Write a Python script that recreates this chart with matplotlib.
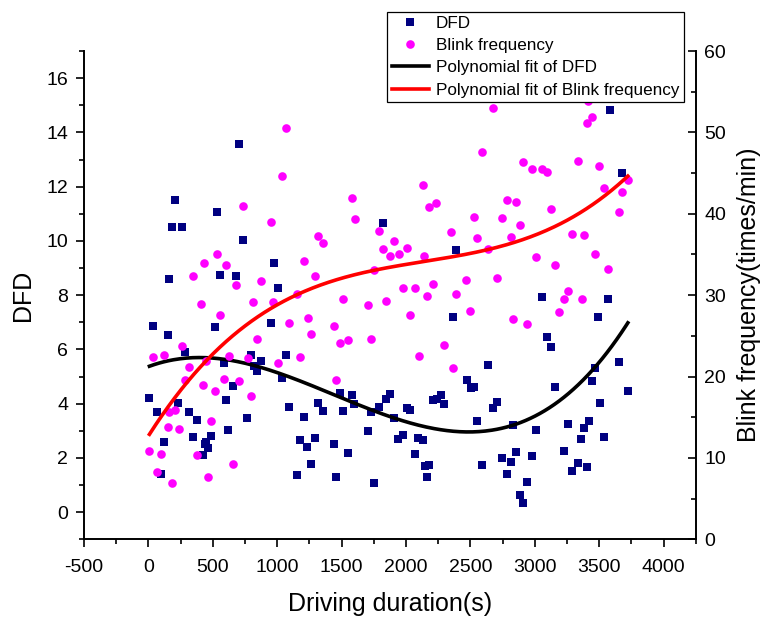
import numpy as np
import matplotlib
matplotlib.use('Agg')
import matplotlib.pyplot as plt
from matplotlib.ticker import MultipleLocator
from matplotlib.lines import Line2D

plt.rcParams['font.family'] = ['Liberation Sans', 'DejaVu Sans']
plt.rcParams['axes.unicode_minus'] = False

# DFD scatter (driving duration in s, DFD value)
dfd_x = [705, 204, 532, 186, 258, 734, 974, 163, 558, 677, 1010,
         1819, 2385, 3057, 3587, 3677,
         39, 150, 514, 951, 287, 793, 876, 822, 847, 587, 1070, 1036, 654, 605,
         8, 233, 70, 315, 374, 767, 1088, 1207, 1318, 1359, 1488, 1579, 1509, 1599,
         620, 347, 486, 450, 437, 460, 421, 122, 98, 1176, 1235, 1292, 1266, 1155,
         1439, 1548, 1460,
         2367, 3099, 3126, 3160, 3491, 3465, 3444, 3504, 2638, 2473, 2504, 2527,
         2674, 2705, 2553, 2835, 3010, 3258, 3385, 3419, 3362, 3230, 3336, 3287,
         3405, 2744, 2816, 2855, 2788, 2975, 2938, 2884, 2907, 2592, 1726, 1791,
         1845, 1879, 1909, 1708, 1754, 2008, 2031, 1940, 1977, 2096, 2132, 2070,
         2145, 2181, 2163, 2209, 2240, 2271, 2297,
         3566, 3654, 3723, 3535]
dfd_y = [13.57, 11.52, 11.07, 10.53, 10.53, 10.03, 9.20, 8.61, 8.75, 8.72, 8.27,
         10.67, 9.68, 7.92, 14.84, 12.49,
         6.85, 6.54, 6.81, 6.97, 5.90, 5.80, 5.56, 5.38, 5.21, 5.51, 5.78, 4.95, 4.66, 4.13,
         4.22, 4.03, 3.70, 3.71, 3.39, 3.47, 3.88, 3.51, 4.02, 3.73, 4.41, 4.33, 3.74, 3.97,
         3.03, 2.76, 2.81, 2.58, 2.50, 2.38, 2.11, 2.59, 1.39, 2.65, 2.41, 2.73, 1.76, 1.38,
         2.51, 2.19, 1.28,
         7.18, 6.46, 6.10, 4.62, 7.18, 5.31, 4.84, 4.03, 5.43, 4.87, 4.59, 4.63,
         3.85, 4.07, 3.37, 3.23, 3.03, 3.26, 3.10, 3.35, 2.71, 2.27, 1.80, 1.53,
         1.68, 2.00, 1.84, 2.23, 1.42, 2.07, 1.12, 0.64, 0.32, 1.75, 3.68, 3.89,
         4.16, 4.37, 3.46, 2.98, 1.07, 3.84, 3.77, 2.71, 2.83, 2.72, 2.67, 2.14,
         1.69, 1.74, 1.28, 4.13, 4.18, 4.31, 3.99,
         7.86, 5.52, 4.48, 2.76]

# Blink frequency scatter (driving duration in s, times/min)
blink_x = [1070, 1039, 734, 951, 1581, 1602, 1318, 1359, 532, 434, 605, 1207, 349,
           1292, 677, 876, 1155,
           2674, 3416, 3444, 3405, 2592, 2905, 2975, 3054, 3099, 3336, 3499, 2129,
           2181, 2235, 2788, 2855, 3126, 2525, 2742, 2884, 1788, 2346, 1909, 1819,
           2005, 1879, 1946, 2142, 2555, 2819, 2636, 3287, 3385, 3471, 3010, 3157,
           1752, 2470, 2705, 1977, 2070, 2207, 2163, 2388, 3261, 3230, 3364, 1512, 1847,
           3535, 3721, 3677, 3651, 3566,
           406, 816, 971, 558, 1088, 1238, 1266, 1439, 1486, 1550, 847, 258, 39, 124,
           623, 770, 1010, 1178, 315, 450, 284, 589, 705, 426, 514, 796, 1460, 163,
           204, 150, 235, 486, 8, 98, 374, 654, 70, 460, 186,
           1708, 2031, 2501, 2835, 2940, 3191, 1726, 2297, 2098, 2364]
blink_y = [50.6, 44.6, 40.9, 39.0, 41.9, 39.3, 37.3, 36.4, 35.1, 33.9, 33.7, 34.2, 32.4,
           32.3, 31.3, 31.7, 30.1,
           53.0, 53.9, 51.9, 51.2, 47.6, 46.3, 45.5, 45.5, 45.1, 46.5, 45.9, 43.5,
           40.8, 41.3, 41.7, 41.5, 40.6, 39.6, 39.5, 38.6, 37.9, 37.7, 36.7, 35.7,
           35.8, 34.8, 35.0, 34.8, 37.0, 37.1, 35.7, 37.5, 37.4, 35.1, 34.7, 33.7,
           33.1, 31.9, 32.1, 30.9, 30.9, 31.4, 29.9, 30.2, 30.5, 29.5, 29.5, 29.5, 29.3,
           43.2, 44.1, 42.7, 40.2, 33.2,
           28.9, 29.1, 29.1, 27.6, 26.6, 27.2, 25.2, 26.2, 24.1, 24.5, 24.6, 23.8, 22.4, 22.7,
           22.5, 22.3, 21.6, 22.4, 21.2, 21.9, 19.6, 19.7, 19.5, 18.9, 18.2, 17.6, 19.6, 15.7,
           15.9, 13.8, 13.6, 14.5, 10.8, 10.5, 10.3, 9.2, 8.3, 7.6, 6.9,
           28.8, 27.5, 28.1, 27.1, 26.5, 27.9, 24.6, 23.9, 22.5, 21.0]

dfd_x = np.array(dfd_x); dfd_y = np.array(dfd_y)
blink_x = np.array(blink_x); blink_y = np.array(blink_y)

# cubic polynomial fits
p_dfd = np.polyfit(dfd_x, dfd_y, 3)
p_blink = np.polyfit(blink_x, blink_y, 3)
xf = np.linspace(min(dfd_x.min(), blink_x.min()), max(dfd_x.max(), blink_x.max()), 300)

fig = plt.figure(figsize=(7.61, 6.19), dpi=100)
ax = fig.add_axes([0.1104, 0.1288, 0.8038, 0.7888])
ax2 = ax.twinx()

ax.plot(dfd_x, dfd_y, 's', color='#000080', markersize=6, markeredgewidth=0, zorder=2)
ax.plot(xf, np.polyval(p_dfd, xf), color='black', linewidth=2.6, zorder=3)
ax2.plot(blink_x, blink_y, 'o', color='#FF00FF', markersize=6.2, markeredgewidth=0, zorder=2)
ax2.plot(xf, np.polyval(p_blink, xf), color='red', linewidth=2.6, zorder=3)

ax.set_xlim(-500, 4250)
ax.set_ylim(-1, 17)
ax2.set_ylim(0, 60)
ax.xaxis.set_major_locator(MultipleLocator(500))
ax.xaxis.set_minor_locator(MultipleLocator(250))
ax.yaxis.set_major_locator(MultipleLocator(2))
ax.yaxis.set_minor_locator(MultipleLocator(1))
ax2.yaxis.set_major_locator(MultipleLocator(10))
ax2.yaxis.set_minor_locator(MultipleLocator(5))

for s in ['top', 'right']:
    ax.spines[s].set_visible(False)
for s in ['top', 'left', 'bottom']:
    ax2.spines[s].set_visible(False)
for s in ['left', 'bottom']:
    ax.spines[s].set_linewidth(1.4)
ax2.spines['right'].set_linewidth(1.4)

ax.tick_params(which='major', direction='out', length=6, width=1.2, labelsize=14)
ax.tick_params(which='minor', direction='out', length=3.5, width=1.2)
ax.tick_params(axis='x', which='major', pad=8)
ax.tick_params(axis='y', which='major', pad=5.5)
ax2.tick_params(which='major', direction='in', length=6, width=1.2, labelsize=14, pad=6)
ax2.tick_params(which='minor', direction='in', length=3.5, width=1.2)

ax.set_xlabel('Driving duration(s)', fontsize=18, labelpad=12)
ax.set_ylabel('DFD', fontsize=18, labelpad=8)
ax2.set_ylabel('Blink frequency(times/min)', fontsize=18, labelpad=8)

handles = [
    Line2D([], [], marker='s', color='#000080', linestyle='none', markersize=6, markeredgewidth=0),
    Line2D([], [], marker='o', color='#FF00FF', linestyle='none', markersize=6.2, markeredgewidth=0),
    Line2D([], [], color='black', linewidth=2.6),
    Line2D([], [], color='red', linewidth=2.6),
]
labels = ['DFD', 'Blink frequency', 'Polynomial fit of DFD', 'Polynomial fit of Blink frequency']
leg = fig.legend(handles, labels, loc='upper left', bbox_to_anchor=(0.509, 0.981),
                 bbox_transform=fig.transFigure, fontsize=12.3, frameon=True, fancybox=False,
                 edgecolor='black', framealpha=1, borderpad=0.25, labelspacing=0.42,
                 handlelength=2.2, handletextpad=0.4, borderaxespad=0)
leg.get_frame().set_linewidth(0.9)

fig.savefig('out.png', dpi=100)
